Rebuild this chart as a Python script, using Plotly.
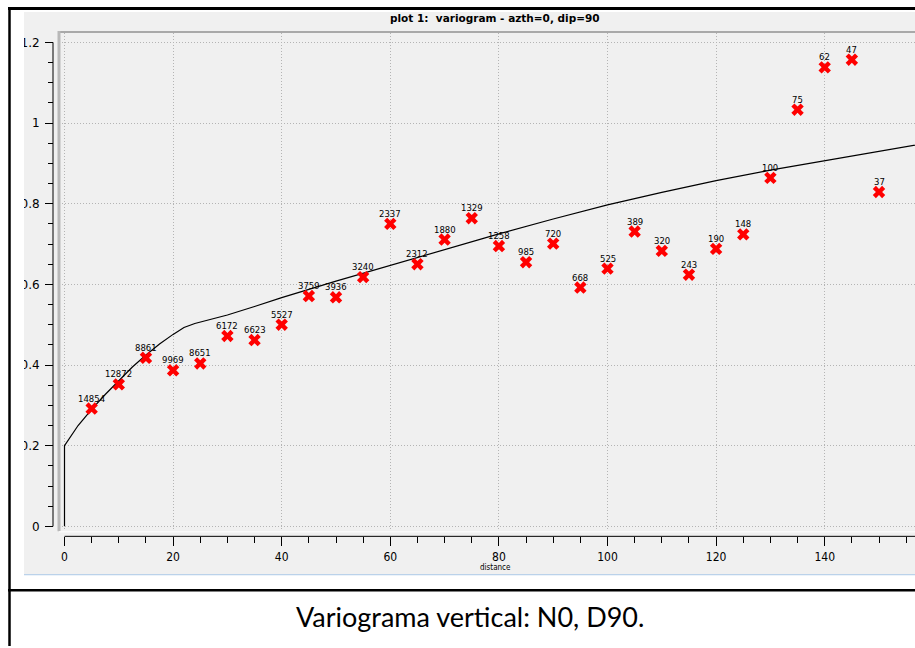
import plotly.graph_objects as go

# Experimental variogram: lag distance, semivariance and number of pairs per lag
lag_distance = [5, 10, 15, 20, 25, 30, 35, 40, 45, 50, 55, 60, 65, 70, 75,
                80, 85, 90, 95, 100, 105, 110, 115, 120, 125, 130, 135, 140, 145, 150]
semivariance = [0.292, 0.352, 0.418, 0.387, 0.404, 0.472, 0.462, 0.500, 0.571, 0.568,
                0.618, 0.750, 0.650, 0.711, 0.764, 0.695, 0.655, 0.701, 0.592, 0.639,
                0.731, 0.683, 0.624, 0.688, 0.724, 0.864, 1.033, 1.138, 1.157, 0.829]
pair_counts = [14854, 12872, 8861, 9969, 8651, 6172, 6623, 5527, 3759, 3936,
               3240, 2337, 2312, 1880, 1329, 1258, 985, 720, 668, 525,
               389, 320, 243, 190, 148, 100, 75, 62, 47, 37]

# Fitted variogram model (nugget jump at the origin, then the nested structures)
model_distance = [0, 0, 2.5, 5, 7.5, 10, 12.5, 15, 17.5, 20, 22, 24, 27, 30, 35, 40,
                  50, 60, 70, 80, 90, 100, 110, 120, 130, 140, 150, 160]
model_gamma = [0.0, 0.2, 0.25, 0.29, 0.327, 0.362, 0.395, 0.425, 0.452, 0.476, 0.493,
               0.503, 0.513, 0.524, 0.545, 0.567, 0.608, 0.647, 0.686, 0.725, 0.762,
               0.797, 0.828, 0.857, 0.883, 0.907, 0.930, 0.953]

x_ticks = [0, 20, 40, 60, 80, 100, 120, 140]
y_ticks = [0, 0.2, 0.4, 0.6, 0.8, 1.0, 1.2]

W, H = 915, 648


def px(v):
    return v / W


def py(v):
    return 1 - v / H


PANEL = "#f0f0f0"
GRID = "#b4b4b4"
x_tick_font = dict(family="DejaVu Sans Condensed, DejaVu Sans", size=12, color="#000000")
y_tick_font = dict(family="DejaVu Sans", size=12, color="#000000")
label_font = dict(family="DejaVu Sans", size=8.5, color="#000000")

fig = go.Figure()

fig.add_trace(go.Scatter(
    x=model_distance, y=model_gamma, mode="lines",
    line=dict(color="#000000", width=1.2),
    hoverinfo="skip", showlegend=False,
))

fig.add_trace(go.Scatter(
    x=lag_distance, y=semivariance, mode="markers",
    marker=dict(symbol="x", size=11, color="#ff0000", line=dict(width=0)),
    cliponaxis=False, showlegend=False,
))

x0_px, x_scale = 64.5, 5.43
y0_px, y_scale = 528.0, 404.6
x_lo = (59 - x0_px) / x_scale
x_hi = (915 - x0_px) / x_scale
y_lo = (y0_px - 533) / y_scale
y_hi = (y0_px - 33) / y_scale

fig.update_layout(
    width=W, height=H,
    margin=dict(l=0, r=0, t=0, b=0),
    paper_bgcolor="#ffffff",
    plot_bgcolor=PANEL,
    xaxis=dict(
        domain=[px(59), 1.0], range=[x_lo, x_hi],
        anchor="free", position=py(538),
        tickvals=x_ticks, ticks="outside", ticklen=9, tickcolor="#000000",
        tickwidth=1, showline=False, zeroline=False,
        showgrid=True, gridcolor=GRID, griddash="1px,2px", gridwidth=1,
        minor=dict(dtick=5, tick0=0, ticks="outside", ticklen=6,
                   tickcolor="#000000", showgrid=False),
        tickfont=x_tick_font,
    ),
    yaxis=dict(
        domain=[py(533), py(33)], range=[y_lo, y_hi],
        anchor="free", position=px(53),
        tickvals=y_ticks, ticks="outside", ticklen=8, tickcolor="#000000",
        tickwidth=1, showline=False, zeroline=False,
        showgrid=True, gridcolor=GRID, griddash="1px,2px", gridwidth=1,
        minor=dict(dtick=0.05, tick0=0, ticks="outside", ticklen=5,
                   tickcolor="#000000", showgrid=False),
        tickfont=y_tick_font, ticklabelstandoff=3,
    ),
)

shapes = [
    # grey application panel
    dict(type="rect", xref="paper", yref="paper", x0=px(24), x1=1.0, y0=py(576), y1=py(12),
         fillcolor=PANEL, line=dict(width=0), layer="below"),
    # frame of the plotting area (top and left)
    dict(type="line", xref="paper", yref="paper", x0=px(59), x1=1.0, y0=py(32), y1=py(32),
         line=dict(color="#a9a9a9", width=2), layer="above"),
    dict(type="line", xref="paper", yref="paper", x0=px(59), x1=px(59), y0=py(533), y1=py(31),
         line=dict(color="#b8b8b8", width=3), layer="above"),
    dict(type="line", xref="paper", yref="paper", x0=px(59), x1=1.0, y0=py(533.5), y1=py(533.5),
         line=dict(color="#ffffff", width=1), layer="above"),
    # axis lines
    dict(type="line", xref="x", yref="paper", x0=0, x1=x_hi, y0=py(538), y1=py(538),
         line=dict(color="#000000", width=1), layer="above"),
    dict(type="line", xref="paper", yref="y", x0=px(53), x1=px(53), y0=0, y1=1.2,
         line=dict(color="#000000", width=1), layer="above"),
    # bottom edge of the panel
    dict(type="line", xref="paper", yref="paper", x0=px(24), x1=1.0, y0=py(576.5), y1=py(576.5),
         line=dict(color="#a9c7e6", width=1), layer="above"),
    # white margin left of the panel (clips the y labels)
    dict(type="rect", xref="paper", yref="paper", x0=0, x1=px(24), y0=0, y1=1,
         fillcolor="#ffffff", line=dict(width=0), layer="above"),
    # table borders around the figure and its caption
    dict(type="line", xref="paper", yref="paper", x0=px(9.5), x1=px(9.5), y0=0, y1=py(7),
         line=dict(color="#000000", width=2.5), layer="above"),
    dict(type="line", xref="paper", yref="paper", x0=px(8), x1=1.0, y0=py(8.5), y1=py(8.5),
         line=dict(color="#000000", width=3), layer="above"),
    dict(type="line", xref="paper", yref="paper", x0=px(8), x1=1.0, y0=py(592), y1=py(592),
         line=dict(color="#000000", width=2.5), layer="above"),
]
fig.update_layout(shapes=shapes)

# pair counts written just above each experimental point
annotations = [
    dict(text=str(n), x=d, y=g, xref="x", yref="y", showarrow=False,
         xanchor="center", yanchor="middle", yshift=10, font=label_font)
    for d, g, n in zip(lag_distance, semivariance, pair_counts)
]
annotations += [
    dict(text="<b>plot 1:  variogram - azth=0, dip=90</b>", xref="paper", yref="paper",
         x=px(495), y=py(18.5), showarrow=False, xanchor="center", yanchor="middle",
         font=dict(family="DejaVu Sans", size=10.5, color="#000000")),
    dict(text="distance", xref="paper", yref="paper", x=px(496), y=py(569),
         showarrow=False, xanchor="center", yanchor="middle",
         font=dict(family="DejaVu Sans Condensed, DejaVu Sans", size=8, color="#000000")),
    dict(text="Variograma vertical: N0, D90.", xref="paper", yref="paper",
         x=px(470), y=py(618), showarrow=False, xanchor="center", yanchor="middle",
         font=dict(family="Lato, Open Sans", size=27, color="#000000")),
]
fig.update_layout(annotations=annotations)

fig.write_html("out.html")
